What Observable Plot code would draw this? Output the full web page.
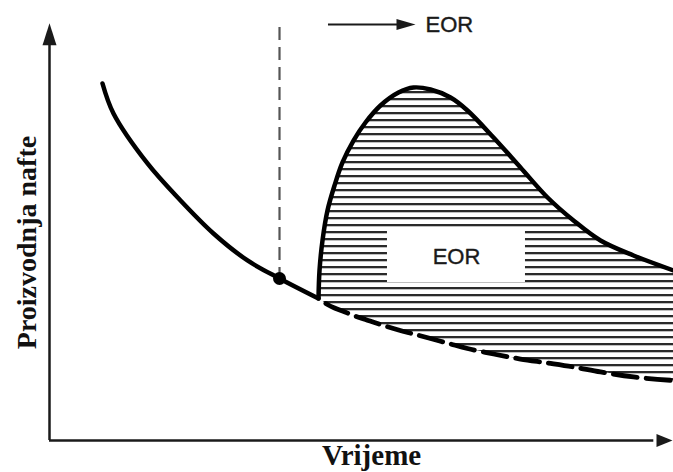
<!DOCTYPE html>
<html>
<head>
<meta charset="utf-8">
<script src="https://cdn.jsdelivr.net/npm/d3@7"></script>
<script src="https://cdn.jsdelivr.net/npm/@observablehq/plot@0.6"></script>
<style>
  html, body { margin: 0; padding: 0; background: #fff; }
  svg { display: block; }
</style>
</head>
<body>
<div id="chart"></div>
<script>
// Primary (natural) decline, before EOR starts
const declineTime = [8.51, 10.27, 15.73, 21.03, 26.32, 31.78, 36.92, 43.18];
const declineRate = [85.61, 78.42, 66.43, 57.55, 49.64, 43.17, 38.85, 34.05];

// After EOR starts: continued natural decline (dashed) and EOR production
const eorTime  = [43.18, 43.34, 43.82, 44.62, 45.75, 47.03, 48.80, 50.72, 53.13, 56.02, 58.43, 61.16, 64.37, 67.09, 71.27, 75.60, 79.94, 84.11, 88.44, 93.74, 100.16];
const baseRate = [34.05, 33.93, 33.45, 32.61, 31.77, 31.06, 29.98, 29.02, 27.82, 26.50, 25.54, 24.46, 23.14, 22.06, 20.74, 19.54, 18.59, 17.63, 16.43, 15.23, 14.39];
const eorRate  = [34.05, 40.77, 47.96, 55.16, 61.15, 66.67, 71.94, 76.26, 80.34, 83.45, 84.65, 84.17, 82.25, 79.14, 72.66, 65.47, 58.27, 52.76, 47.96, 44.36, 40.77];

// Moment of EOR onset (marked point + dashed vertical)
const onsetTime = 36.92;
const onsetRate = 38.85;

// Texts
const xLabel = "Vrijeme";
const yLabel = "Proizvodnja nafte";
const eorLabel = "EOR";

// Annotation anchors (data units)
const eorBox = [{x1: 54.25, x2: 76.40, y1: 37.89, y2: 50.36}];
const eorArrow = {x1: 44.78, x2: 58.75, y: 99.76};

const declineData = declineTime.map((t, i) => ({t, q: declineRate[i]}));
const eorData = eorTime.map((t, i) => ({t, base: baseRate[i], eor: eorRate[i]}));

function headSymbol(len, wid) {
  return { draw(ctx) { ctx.moveTo(0, 0); ctx.lineTo(-wid / 2, len); ctx.lineTo(wid / 2, len); ctx.closePath(); } };
}

const ink = "#1a1a1a";
const serif = "'Liberation Serif', 'Times New Roman', serif";
const sans = "'Liberation Sans', Arial, sans-serif";

const chart = Plot.plot({
  width: 673,
  height: 472,
  marginLeft: 49,
  marginRight: 1,
  marginTop: 23,
  marginBottom: 32,
  x: {domain: [0, 100], axis: null},
  y: {domain: [0, 100], axis: null},
  style: {background: "#fff", overflow: "visible"},
  marks: [
    // hatched EOR area
    Plot.areaY(eorData, {x: "t", y1: "base", y2: "eor", curve: "catmull-rom", fill: "url(#hatch)"}),
    // white label box
    Plot.rect(eorBox, {x1: "x1", x2: "x2", y1: "y1", y2: "y2", fill: "#fff"}),
    Plot.text([eorLabel], {x: (eorBox[0].x1 + eorBox[0].x2) / 2, y: (eorBox[0].y1 + eorBox[0].y2) / 2, text: d => d, fontSize: 22, fontFamily: sans, fill: ink, stroke: ink, strokeWidth: 0.4}),
    // axes
    Plot.ruleX([0], {y1: 0, y2: 96, stroke: ink, strokeWidth: 2.5}),
    Plot.ruleY([0], {x1: 0, x2: 97, stroke: ink, strokeWidth: 2.5}),
    Plot.dot([{x: 0, y: 100.07}], {x: "x", y: "y", symbol: headSymbol(22, 14), fill: ink, stroke: "none"}),
    Plot.dot([{x: 100, y: 0}], {x: "x", y: "y", symbol: headSymbol(16, 13), rotate: 90, fill: ink, stroke: "none"}),
    // vertical dashed onset line
    Plot.ruleX([onsetTime], {y1: 99.04, y2: onsetRate, stroke: "#555", strokeWidth: 2.2, strokeDasharray: "13,7"}),
    // natural decline (solid) and its continuation (dashed)
    Plot.line(declineData, {x: "t", y: "q", curve: "catmull-rom", stroke: "#000", strokeWidth: 4.5, strokeLinecap: "round"}),
    Plot.line(eorData, {x: "t", y: "base", curve: "catmull-rom", stroke: "#000", strokeWidth: 4.8, strokeDasharray: "24,9", strokeDashoffset: 24}),
    // EOR production curve
    Plot.line(eorData, {x: "t", y: "eor", curve: "catmull-rom", stroke: "#000", strokeWidth: 4.5, strokeLinejoin: "round"}),
    // onset dot
    Plot.dot([{x: onsetTime, y: onsetRate}], {x: "x", y: "y", r: 6.5, fill: "#000", stroke: "none"}),
    // top "→ EOR" arrow
    Plot.ruleY([eorArrow.y], {x1: eorArrow.x1, x2: eorArrow.x2 - 2, stroke: ink, strokeWidth: 2}),
    Plot.dot([{x: eorArrow.x2, y: eorArrow.y}], {x: "x", y: "y", symbol: headSymbol(19, 11), rotate: 90, fill: ink, stroke: "none"}),
    Plot.text([eorLabel], {x: eorArrow.x2 + 1.6, y: eorArrow.y, text: d => d, textAnchor: "start", fontSize: 22, fontFamily: sans, fill: ink, stroke: ink, strokeWidth: 0.4}),
    // axis titles
    Plot.text([yLabel], {x: -3.53, y: 47.48, text: d => d, rotate: -90, fontSize: 28, fontWeight: "bold", fontFamily: serif, fill: "#111"}),
    Plot.text([xLabel], {x: 51.69, y: -3.75, text: d => d, fontSize: 29, fontWeight: "bold", fontFamily: serif, fill: "#111"})
  ]
});

// hatch pattern definition
const ns = "http://www.w3.org/2000/svg";
const defs = document.createElementNS(ns, "defs");
const pat = document.createElementNS(ns, "pattern");
pat.setAttribute("id", "hatch");
pat.setAttribute("patternUnits", "userSpaceOnUse");
pat.setAttribute("width", "10");
pat.setAttribute("height", "7");
const bar = document.createElementNS(ns, "rect");
bar.setAttribute("x", "0");
bar.setAttribute("y", "0");
bar.setAttribute("width", "10");
bar.setAttribute("height", "2.3");
bar.setAttribute("fill", "#2a2a2a");
pat.appendChild(bar);
defs.appendChild(pat);
chart.insertBefore(defs, chart.firstChild);

document.getElementById("chart").appendChild(chart);
</script>
</body>
</html>
